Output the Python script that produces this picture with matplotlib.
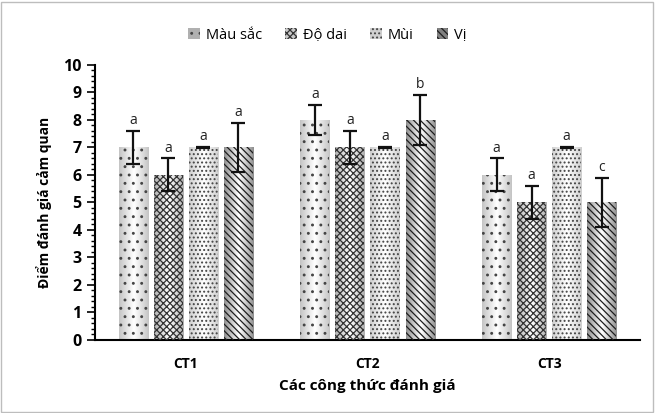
import numpy as np
import matplotlib
matplotlib.use("Agg")
import matplotlib.pyplot as plt
from matplotlib.ticker import MultipleLocator
from matplotlib.colors import LinearSegmentedColormap

plt.rcParams['font.family'] = ['Open Sans', 'DejaVu Sans']
plt.rcParams['hatch.linewidth'] = 0.9

# dữ liệu
groups = ['CT1', 'CT2', 'CT3']
series = ['Màu sắc', 'Độ dai', 'Mùi', 'Vị']
mau_sac = [7, 8, 6]
do_dai = [6, 7, 5]
mui = [7, 7, 7]
vi = [7, 8, 5]
err_mau_sac = [0.6, 0.55, 0.6]
err_do_dai = [0.6, 0.6, 0.6]
err_mui = [0.02, 0.02, 0.02]
err_vi = [0.9, 0.9, 0.9]
lbl_mau_sac = ['a', 'a', 'a']
lbl_do_dai = ['a', 'a', 'a']
lbl_mui = ['a', 'a', 'a']
lbl_vi = ['a', 'b', 'c']

values = [mau_sac, do_dai, mui, vi]
errors = [err_mau_sac, err_do_dai, err_mui, err_vi]
letters = [lbl_mau_sac, lbl_do_dai, lbl_mui, lbl_vi]
hatches = ['..', 'xxxxx', '....', '\\\\\\\\\\']
edge_gray = ['#c4c4c4', '#b0b0b0', '#cfcfcf', '#8f8f8f']
hcols = ['#444444', '#333333', '#444444', '#1e1e1e']

fig = plt.figure(figsize=(6.55, 4.13), dpi=100)
fig.patches.append(plt.Rectangle((0.002, 0.003), 0.995, 0.993, transform=fig.transFigure,
                                 fill=False, edgecolor='#bdbdbd', linewidth=1))
ax = fig.add_axes([0.145, 0.177, 0.832, 0.666])

x = np.arange(len(groups))
w = 0.16
step = 0.193
grad = np.abs(np.linspace(-1, 1, 64))[None, :]
for i, name in enumerate(series):
    pos = x + (i - 1.5) * step
    cmap = LinearSegmentedColormap.from_list('g%d' % i, ['#ffffff', edge_gray[i]])
    bars = ax.bar(pos, values[i], width=w, color='none', edgecolor=hcols[i],
                  linewidth=0, hatch=hatches[i], label=name, zorder=3)
    for b in bars:
        im = ax.imshow(grad, cmap=cmap, aspect='auto', zorder=2,
                       extent=(b.get_x(), b.get_x() + b.get_width(), 0, b.get_height()))
        im.set_clip_path(b)
    ax.errorbar(pos, values[i], yerr=errors[i], fmt='none', ecolor='#111111',
                elinewidth=1.6, capsize=5, capthick=1.6, zorder=4)
    for p, v, e, t in zip(pos, values[i], errors[i], letters[i]):
        ax.text(p, v + e + 0.1, t, ha='center', va='bottom', fontsize=10, color='#222222')

ax.set_xlim(-0.5, 2.5)
ax.set_ylim(0, 10)
ax.set_xticks(x)
ax.set_xticklabels(groups, fontsize=10, fontweight='bold')
ax.tick_params(axis='x', length=0, pad=12)
ax.yaxis.set_major_locator(MultipleLocator(1))
ax.yaxis.set_minor_locator(MultipleLocator(0.2))
ax.tick_params(axis='y', which='major', length=6, width=1.2, labelsize=11.5)
ax.tick_params(axis='y', which='minor', length=3, width=1)
for lab in ax.get_yticklabels():
    lab.set_fontweight('bold')
ax.spines['top'].set_visible(False)
ax.spines['right'].set_visible(False)
ax.spines['left'].set_linewidth(1.5)
ax.spines['bottom'].set_linewidth(1.5)
ax.set_ylabel('Điểm đánh giá cảm quan', fontsize=10, fontweight='bold', labelpad=8)
ax.set_xlabel('Các công thức đánh giá', fontsize=11, fontweight='bold', labelpad=6)

handles = [plt.Rectangle((0, 0), 1, 1, facecolor=c, edgecolor=h, hatch=hh, linewidth=0)
           for c, h, hh in zip(['#b0b0b0', '#c8c8c8', '#d0d0d0', '#808080'], hcols, hatches)]
fig.legend(handles, series, loc='upper center', bbox_to_anchor=(0.5, 0.965), ncol=4,
           frameon=False, fontsize=10.5, handlelength=0.8, handleheight=0.8,
           handletextpad=0.4, columnspacing=1.6)

fig.savefig('out.png', dpi=100)
